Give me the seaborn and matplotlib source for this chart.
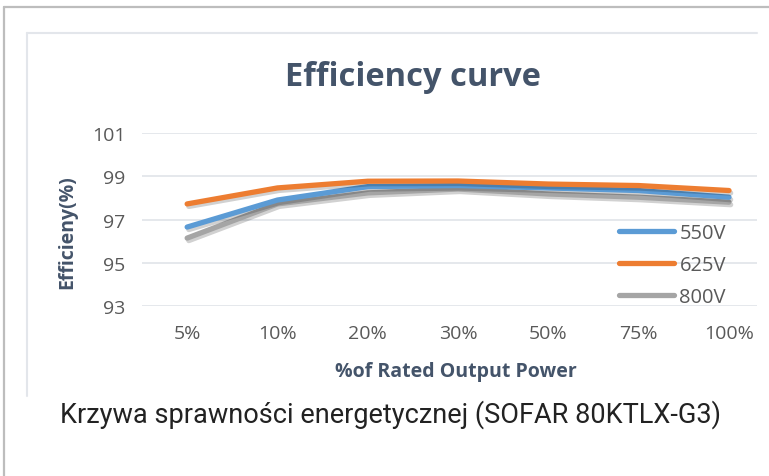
import pandas as pd
import matplotlib
matplotlib.use("Agg")
import matplotlib.pyplot as plt
import matplotlib.patheffects as pe
from matplotlib.lines import Line2D
import seaborn as sns

# values
power_levels = ["5%", "10%", "20%", "30%", "50%", "75%", "100%"]
eff_550v = [96.65, 97.9, 98.52, 98.57, 98.46, 98.34, 98.03]
eff_625v = [97.72, 98.46, 98.77, 98.78, 98.64, 98.57, 98.34]
eff_800v = [96.14, 97.72, 98.23, 98.41, 98.18, 98.03, 97.8]
series_names = ["550V", "625V", "800V"]
y_ticks = [93, 95, 97, 99, 101]

df = pd.DataFrame({
    "power": power_levels * 3,
    "eff": eff_550v + eff_625v + eff_800v,
    "voltage": [s for s in series_names for _ in power_levels],
})

sns.set_style("white")
plt.rcParams["font.family"] = ["Open Sans", "DejaVu Sans"]

W, H = 769, 477
fig = plt.figure(figsize=(W / 100, H / 100), dpi=100)
ax = fig.add_axes([142 / W, (H - 307) / H, 615 / W, 173 / H])

colors = {"550V": "#5B9BD5", "625V": "#ED7D31", "800V": "#A5A5A5"}
sns.lineplot(data=df, x="power", y="eff", hue="voltage", hue_order=series_names,
             palette=colors, sort=False, linewidth=3.8, ax=ax)

# drawing order: grey at the bottom, orange on top, with a soft shadow
for line, z in zip(ax.lines, [3, 4, 2]):
    line.set_zorder(z)
    line.set_solid_capstyle("round")
    line.set_path_effects([pe.SimpleLineShadow(offset=(1.2, -1.8), alpha=0.18),
                           pe.Normal()])

ax.set_ylim(93, 101)
ax.set_yticks(y_ticks)
ax.set_xlim(-0.5, 6.31)
ax.grid(axis="y", color="#E3E6EB", linewidth=1.3)
ax.set_axisbelow(True)
for s in ax.spines.values():
    s.set_visible(False)
ax.tick_params(axis="both", length=0, labelsize=14, labelcolor="#595959")
ax.tick_params(axis="y", pad=12)
ax.tick_params(axis="x", pad=13)

label_color = "#44546A"
ax.set_xlabel("%of Rated Output Power", fontsize=14, fontweight="bold", color=label_color)
ax.set_ylabel("Efficieny(%)", fontsize=14, fontweight="bold", color=label_color)
ax.xaxis.set_label_coords((456 - 142) / 615, (307 - 372) / 173)
ax.xaxis.label.set_va("center")
ax.yaxis.set_label_coords((67 - 142) / 615, (307 - 232) / 173)
ax.yaxis.label.set_va("center")

fig.text(413 / W, (H - 77) / H, "Efficiency curve", fontsize=23.5, fontweight="bold",
         color=label_color, ha="center", va="center")

handles, labels = ax.get_legend_handles_labels()
for h in handles:
    h.set_linewidth(3.8)
    h.set_solid_capstyle("round")
ax.legend(handles, labels, loc="upper left", bbox_to_anchor=(619 / W, (H - 224) / H),
          bbox_transform=fig.transFigure, frameon=False, fontsize=14.5,
          labelcolor="#595959", handlelength=2.75, handletextpad=0.25,
          labelspacing=0.6, borderpad=0, borderaxespad=0)

fig.text(390 / W, (H - 415) / H, "Krzywa sprawności energetycznej (SOFAR 80KTLX-G3)",
         fontsize=19.5, color="#222222", ha="center", va="center",
         family=["Roboto", "DejaVu Sans"])

# frames around the picture
fig.add_artist(Line2D([3.5 / W, 1], [(H - 7.5) / H] * 2, transform=fig.transFigure,
                      color="#BDBDBD", linewidth=1.6))
fig.add_artist(Line2D([3.5 / W] * 2, [0, (H - 7.5) / H], transform=fig.transFigure,
                      color="#BDBDBD", linewidth=1.6))
fig.add_artist(Line2D([27 / W, 757 / W], [(H - 34) / H] * 2, transform=fig.transFigure,
                      color="#E3E6EB", linewidth=1.5))
fig.add_artist(Line2D([27 / W] * 2, [(H - 397) / H, (H - 34) / H], transform=fig.transFigure,
                      color="#E3E6EB", linewidth=1.5))

fig.savefig("out.png", dpi=100)
